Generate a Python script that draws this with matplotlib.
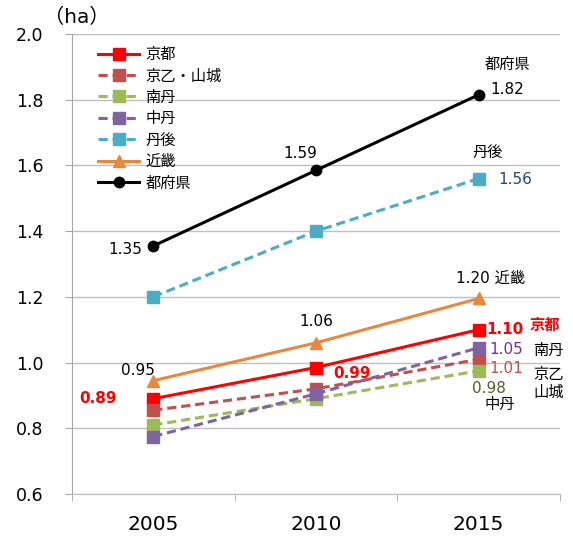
import matplotlib
matplotlib.use("Agg")
import matplotlib.pyplot as plt

plt.rcParams['font.family'] = ['DejaVu Sans', 'Noto Sans CJK JP']

years = ['2005', '2010', '2015']
kyoto = [0.89, 0.985, 1.10]
otokuni = [0.855, 0.92, 1.01]
nantan = [0.81, 0.89, 0.975]
chutan = [0.775, 0.905, 1.045]
tango = [1.20, 1.40, 1.56]
kinki = [0.945, 1.06, 1.195]
zenkoku = [1.355, 1.585, 1.815]

series = [
    ('京都', kyoto, '#FF0000', '-', 's'),
    ('京乙・山城', otokuni, '#C0504D', '--', 's'),
    ('南丹', nantan, '#9BBB59', '--', 's'),
    ('中丹', chutan, '#8064A2', '--', 's'),
    ('丹後', tango, '#4BACC6', '--', 's'),
    ('近畿', kinki, '#E8883F', '-', '^'),
    ('都府県', zenkoku, '#000000', '-', 'o'),
]

fig = plt.figure(figsize=(5.73, 5.38), dpi=100)
ax = fig.add_axes([72 / 573, 1 - 494 / 538, 488 / 573, 460 / 538])

x = range(len(years))
for name, vals, col, ls, mk in series:
    ms = 8 if mk != 'o' else 7.5
    ax.plot(x, vals, color=col, ls=ls, lw=2.2, marker=mk, ms=ms,
            label=name, dashes=(3, 1.6) if ls == '--' else (None, None), zorder=3)

ax.set_xlim(-0.5, 2.5)
ax.set_ylim(0.6, 2.0)
ax.set_yticks([0.6, 0.8, 1.0, 1.2, 1.4, 1.6, 1.8, 2.0])
ax.set_yticklabels(['0.6', '0.8', '1.0', '1.2', '1.4', '1.6', '1.8', '2.0'])
ax.set_xticks(list(x))
ax.set_xticklabels(years)
ax.set_xticks([-0.5, 0.5, 1.5, 2.5], minor=True)
ax.tick_params(axis='y', labelsize=12.5, length=5.4, color='#A6A6A6', pad=15)
ax.tick_params(axis='x', which='major', labelsize=14.5, length=0, pad=15)
ax.tick_params(axis='x', which='minor', length=5, color='#A6A6A6')
ax.grid(axis='y', color='#BFBFBF', lw=1)
ax.set_axisbelow(True)
for s in ['top', 'right']:
    ax.spines[s].set_visible(False)
ax.spines['left'].set_color('#A6A6A6')
ax.spines['bottom'].set_color('#BFBFBF')

fig.text(44 / 573, 1 - 17 / 538, '（ha）', fontsize=14.5, va='center', ha='left')

leg = ax.legend(loc='upper left', bbox_to_anchor=(26 / 488, 1 - 13 / 460), frameon=False,
                fontsize=11, handlelength=2.7, handletextpad=0.4, labelspacing=0.42,
                borderpad=0, borderaxespad=0)


def lab(txt, xi, v, dx, dy, color='black', bold=False):
    ax.annotate(txt, (xi, v), xytext=(dx, dy), textcoords='offset pixels',
                ha='center', va='center', fontsize=11, color=color,
                fontweight='bold' if bold else 'normal')


lab('都府県', 2, zenkoku[2], 29, 30)
lab('1.82', 2, zenkoku[2], 29, 5)
lab('1.59', 1, zenkoku[1], -16, 17)
lab('1.35', 0, zenkoku[0], -28, -4)
lab('丹後', 2, tango[2], 9, 26)
lab('1.56', 2, tango[2], 37, -1, color='#1F497D')
lab('1.20 近畿', 2, kinki[2], 12, 20)
lab('1.06', 1, kinki[1], 0, 21)
lab('0.95', 0, kinki[0], -15, 10)
lab('0.89', 0, kyoto[0], -55, 0, color='#FF0000', bold=True)
lab('0.99', 1, kyoto[1], 36, -6, color='#FF0000', bold=True)
lab('1.10', 2, kyoto[2], 26, 0, color='#FF0000', bold=True)
lab('京都', 2, kyoto[2], 66, 4, color='#FF0000', bold=True)
lab('1.05', 2, chutan[2], 28, -2, color='#7030A0')
lab('南丹', 2, chutan[2], 70, -3)
lab('1.01', 2, otokuni[2], 28, -9, color='#C0504D')
lab('京乙\n山城', 2, otokuni[2], 70, -24)
lab('0.98', 2, nantan[2], 10, -18, color='#4F6228')
lab('中丹', 2, nantan[2], 21, -34)

fig.savefig('out.png', dpi=100)
